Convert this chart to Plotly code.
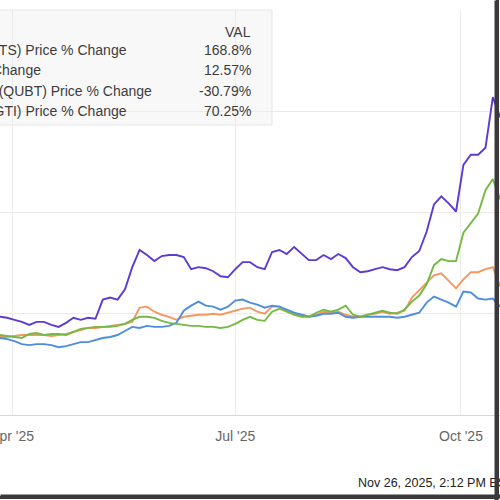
import plotly.graph_objects as go

# ---------------- data ----------------
dates = [
    "2025-03-27", "2025-03-30", "2025-04-02", "2025-04-05", "2025-04-08", "2025-04-11", "2025-04-14",
    "2025-04-17", "2025-04-20", "2025-04-23", "2025-04-26", "2025-04-29", "2025-05-02", "2025-05-05",
    "2025-05-08", "2025-05-11", "2025-05-14", "2025-05-17", "2025-05-20", "2025-05-23", "2025-05-26",
    "2025-05-29", "2025-06-01", "2025-06-04", "2025-06-07", "2025-06-10", "2025-06-13", "2025-06-16",
    "2025-06-19", "2025-06-22", "2025-06-25", "2025-06-28", "2025-07-01", "2025-07-04", "2025-07-07",
    "2025-07-10", "2025-07-13", "2025-07-16", "2025-07-19", "2025-07-22", "2025-07-25", "2025-07-28",
    "2025-07-31", "2025-08-03", "2025-08-06", "2025-08-09", "2025-08-12", "2025-08-15", "2025-08-18",
    "2025-08-21", "2025-08-24", "2025-08-27", "2025-08-30", "2025-09-02", "2025-09-05", "2025-09-08",
    "2025-09-11", "2025-09-14", "2025-09-17", "2025-09-20", "2025-09-23", "2025-09-26", "2025-09-29",
    "2025-10-02", "2025-10-05", "2025-10-08", "2025-10-11", "2025-10-14", "2025-10-17",
]

qbts = [-3, -4, -6, -8, -11, -8, -8, -11, -13, -9,
        -4, -6, -4, -5, 14, 16, 14, 24, 46, 63,
        58, 52, 57, 58, 58, 56, 44, 46, 45, 42,
        37, 36, 44, 51, 51, 46, 44, 61, 63, 59,
        66, 59, 53, 53, 58, 54, 59, 55, 46, 41,
        42, 44, 46, 44, 43, 46, 56, 62, 81, 108,
        116, 109, 101, 147, 157, 157, 164, 214, 194]

ionq = [-23, -23, -22, -21, -21, -21, -21, -22, -21, -20,
        -18, -16, -14, -14, -13, -12, -11, -10, -8, 6,
        7, 2, -1, -3, -6, -3, -2, -1, -1, 0,
        -1, 1, 3, 5, 6, 2, 0, 7, 7, 3,
        0, -1, -3, -1, 2, 1, 2, -1, -3, -3,
        -1, 0, 2, 0, 1, 3, 16, 23, 31, 38,
        40, 33, 25, 34, 41, 41, 44, 46, 27]

qubt = [-24, -25, -27, -30, -31, -30, -30, -31, -33, -32,
        -30, -28, -28, -26, -24, -23, -21, -17, -13, -14,
        -12, -13, -13, -12, -9, 3, 8, 12, 8, 7,
        4, 7, 13, 14, 11, 9, 6, 8, 7, 4,
        1, -1, -3, -2, 0, 0, 1, -3, -4, -3,
        -3, -3, -3, -3, -4, -3, -1, 1, 11, 17,
        14, 11, 7, 22, 21, 15, 14, 15, 7]

rgti = [-21, -22, -23, -24, -20, -19, -21, -20, -20, -21,
        -18, -15, -14, -13, -13, -13, -12, -10, -6, -3,
        -3, -4, -7, -9, -10, -11, -12, -12, -13, -13,
        -14, -13, -10, -6, -3, -6, -7, 2, 5, 2,
        -1, -3, -3, 1, 4, 2, 4, 8, -1, -3,
        -1, 1, 3, 1, 0, 4, 12, 18, 29, 48,
        54, 52, 52, 80, 89, 99, 122, 133, 113]

series_names = [
    "D-Wave Quantum Inc (QBTS) Price % Change",
    "IonQ Inc (IONQ) Price % Change",
    "Quantum Computing Inc (QUBT) Price % Change",
    "Rigetti Computing Inc (RGTI) Price % Change",
]
series_values = [qbts, ionq, qubt, rgti]
series_colors = ["#5E3AD4", "#F7965F", "#4F8EDF", "#74B944"]
legend_vals = ["168.8%", "12.57%", "-30.79%", "70.25%"]

tick_dates = ["2025-04-01", "2025-07-01", "2025-10-01"]
tick_labels = ["Apr '25", "Jul '25", "Oct '25"]
timestamp = "Nov 26, 2025, 2:12 PM EST. Powered by YCHARTS"

# ---------------- figure ----------------
W, H = 500, 500
ML, MR, MT, MB = 0, 0, 10, 85
PH = H - MT - MB


def px(x):
    return x / (W - ML - MR)


def py(y):
    return (H - MB - y) / PH


FONT = "Liberation Sans, Arial, sans-serif"
TXT = "#3d3d3d"
FRAME = "#3a3a3a"

fig = go.Figure()
draw_order = [1, 2, 3, 0]
for i in draw_order:
    fig.add_trace(go.Scatter(
        x=dates, y=series_values[i], mode="lines", name=series_names[i],
        line=dict(color=series_colors[i], width=1.9), hoverinfo="skip",
    ))

shapes = [
    # legend/data box
    dict(type="rect", xref="paper", yref="paper", x0=px(-5), x1=px(272), y0=py(125), y1=py(10),
         fillcolor="#f8f8f8", line=dict(color="#e6e6e6", width=1), layer="below"),
    # outer frame (right and bottom)
    dict(type="rect", xref="paper", yref="paper", x0=px(496), x1=px(499), y0=py(0), y1=py(499),
         fillcolor=FRAME, line=dict(width=0), layer="above"),
    dict(type="rect", xref="paper", yref="paper", x0=px(0), x1=px(499), y0=py(496), y1=py(499),
         fillcolor=FRAME, line=dict(width=0), layer="above"),
]

ann = []
ann.append(dict(text="VAL", x=px(253), y=py(32), xref="paper", yref="paper", xanchor="right",
                yanchor="middle", showarrow=False, font=dict(size=14, color=TXT, family=FONT)))
row_y = [50, 70, 91, 111]
row_right = [129, 43, 154, 129]
for name, val, yy, rr in zip(series_names, legend_vals, row_y, row_right):
    ann.append(dict(text=name, x=px(rr), y=py(yy), xref="paper", yref="paper", xanchor="right",
                    yanchor="middle", showarrow=False, font=dict(size=14, color=TXT, family=FONT)))
    ann.append(dict(text=val, x=px(253), y=py(yy), xref="paper", yref="paper", xanchor="right",
                    yanchor="middle", showarrow=False, font=dict(size=14, color=TXT, family=FONT)))
ann.append(dict(text=timestamp, x=px(356), y=py(483), xref="paper", yref="paper", xanchor="left",
                yanchor="middle", showarrow=False, font=dict(size=12.5, color="#222", family=FONT)))
# frame drawn again as box annotations (right edge, bottom edge)
ann.append(dict(text=" ", x=px(499), y=py(0), xref="paper", yref="paper", xanchor="right",
                yanchor="top", showarrow=False, width=1, height=497, bgcolor=FRAME,
                borderpad=1, font=dict(size=2)))
ann.append(dict(text=" ", x=px(0), y=py(499), xref="paper", yref="paper", xanchor="left",
                yanchor="bottom", showarrow=False, width=497, height=1, bgcolor=FRAME,
                borderpad=1, font=dict(size=2)))

fig.update_layout(
    template="none",
    width=W, height=H, autosize=False,
    margin=dict(l=ML, r=MR, t=MT, b=MB, pad=0, autoexpand=False),
    paper_bgcolor="white", plot_bgcolor="white",
    showlegend=False, hovermode=False,
    font=dict(family=FONT),
    shapes=shapes, annotations=ann,
)
fig.update_xaxes(
    type="date", range=["2025-03-27 02:00", "2025-10-16 22:00"], automargin=False,
    tickmode="array", tickvals=tick_dates, ticktext=tick_labels,
    showgrid=True, gridcolor="#ebebeb", gridwidth=1,
    showline=True, linecolor="#d6d6d6", linewidth=1,
    ticks="", ticklabelstandoff=8, zeroline=False, ticklabeloverflow="allow",
    tickfont=dict(size=14, color="#666", family=FONT),
)
fig.update_yaxes(
    range=[-100, 300], tick0=0, dtick=100, showticklabels=False, automargin=False,
    showgrid=True, gridcolor="#ebebeb", gridwidth=1, zeroline=False, showline=False,
)

fig.write_html("out.html", config={"displayModeBar": False},
               post_script="document.body.style.margin='0';")
